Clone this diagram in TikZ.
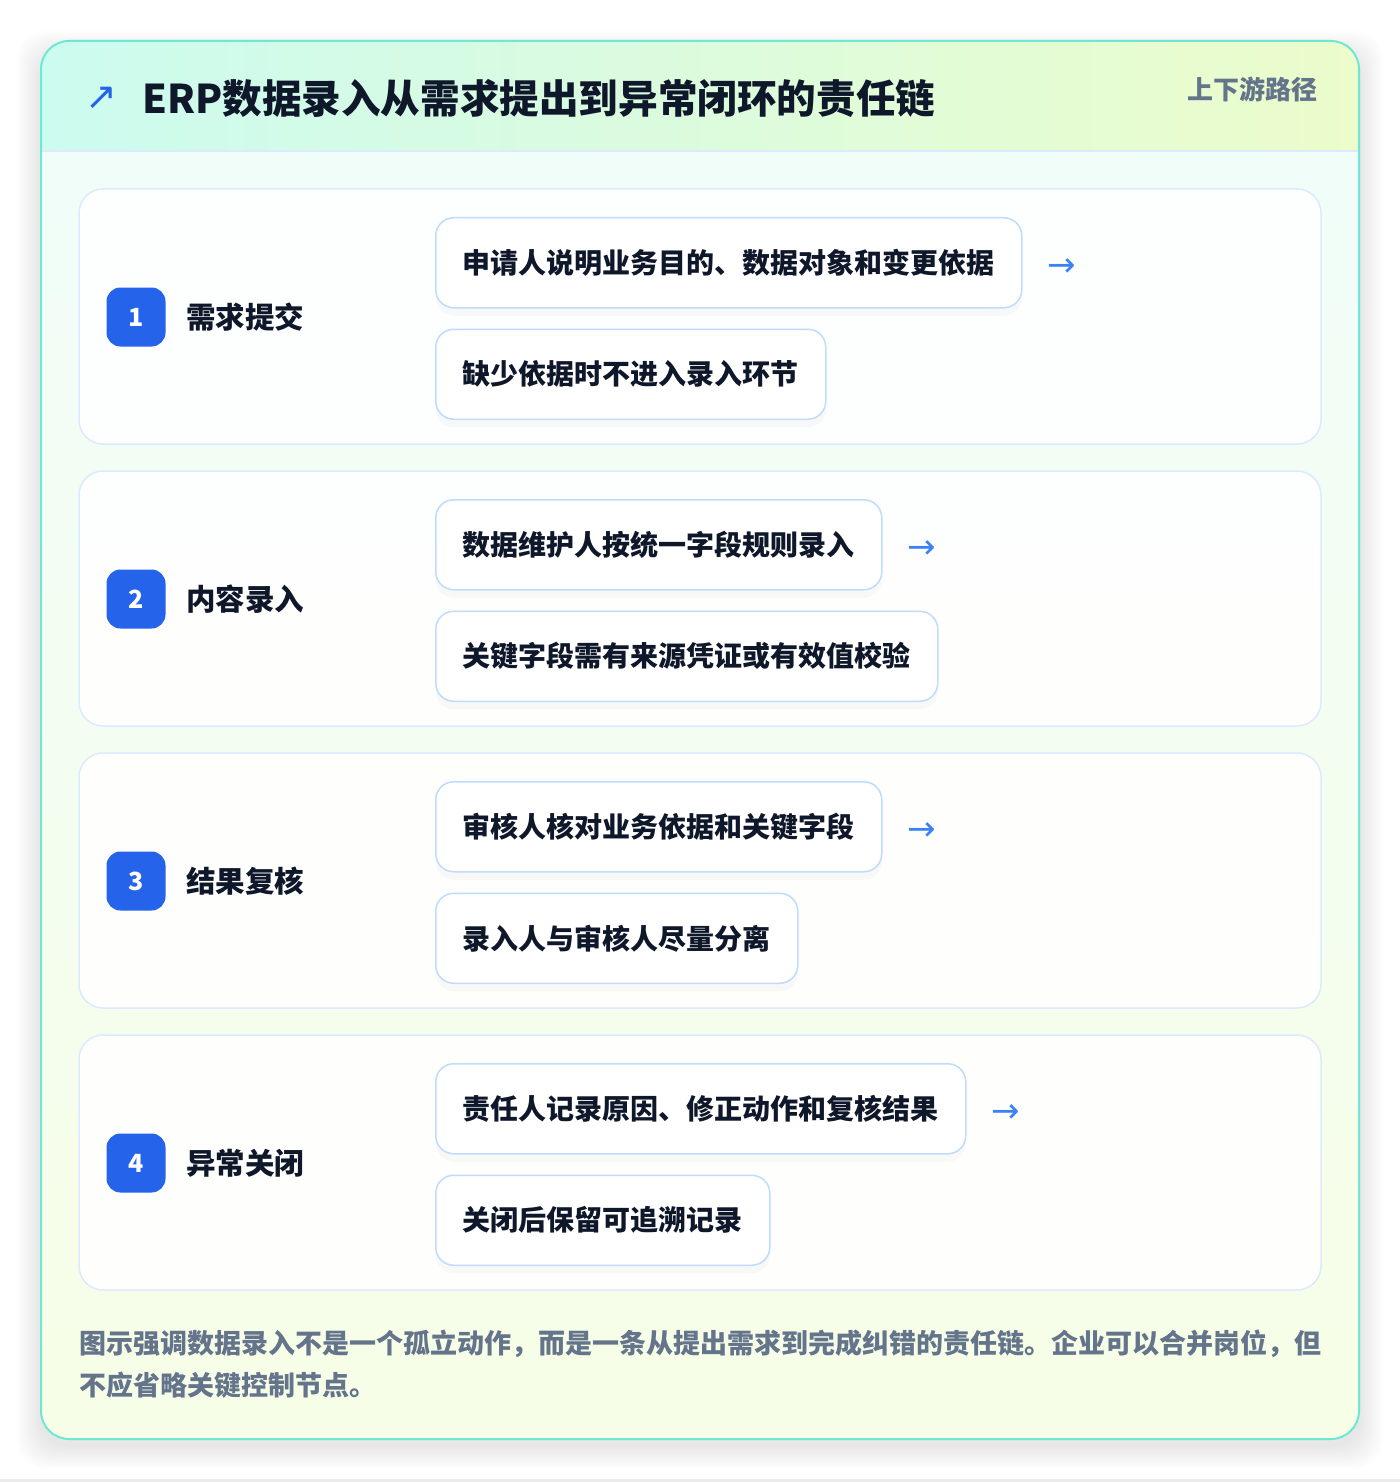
\documentclass[tikz,border=0pt]{standalone}
\usepackage{fontspec}
\setmainfont{Noto Sans CJK SC}
\newfontfamily\symfont{DejaVu Sans}
\usetikzlibrary{positioning,shadows}

\definecolor{ink}{HTML}{0F172A}
\definecolor{muted}{HTML}{64748B}
\definecolor{cardline}{HTML}{6EE7D4}
\definecolor{stepline}{HTML}{DBEAFE}
\definecolor{boxline}{HTML}{BFDBFE}
\definecolor{badgeblue}{HTML}{2563EB}
\definecolor{arrowblue}{HTML}{3B82F6}
\definecolor{headleft}{HTML}{CCFBEF}
\definecolor{headright}{HTML}{ECFCCB}
\definecolor{bodytop}{HTML}{F0FDFA}
\definecolor{bodybottom}{HTML}{F7FEE7}

\tikzset{
  stepcard/.style={draw=stepline, line width=0.75pt, fill=white, fill opacity=0.92, rounded corners=12pt},
  badge/.style={fill=badgeblue, rounded corners=7pt, minimum size=29.5pt, inner sep=0pt,
    text=white, font=\bfseries\fontsize{12.5}{12.5}\selectfont},
  steplabel/.style={inner sep=0pt, text=ink, font=\bfseries\fontsize{14.75}{15}\selectfont},
  itembox/.style={draw=boxline, line width=0.75pt, fill=white, rounded corners=9pt,
    minimum height=45pt, inner xsep=13.5pt, inner ysep=0pt, text=ink,
    font=\bfseries\fontsize{14}{14}\selectfont,
    drop shadow={shadow xshift=0pt, shadow yshift=-4pt, opacity=0.025, fill=black}},
  flowarrow/.style={inner sep=0pt, yshift=-2.5pt, text=arrowblue, font=\symfont\fontsize{17}{17}\selectfont},
}

\begin{document}
\begin{tikzpicture}[x=0.5pt, y=-0.5pt]
    \useasboundingbox (0,0) rectangle (1400,1482);
    \fill[white] (0,0) rectangle (1400,1482);
    \fill[black!8] (0,1479) rectangle (1400,1482);

    %outer shadow
    \foreach \s in {2,4,...,24}
        \fill[black, opacity=0.006, rounded corners=14pt] (41-\s,41-\s+14) rectangle (1359+\s,1439+\s+6);

    %card background and header
    \shade[top color=bodytop, bottom color=bodybottom, rounded corners=14pt] (41,41) rectangle (1359,1439);
    \begin{scope}
        \clip[rounded corners=14pt] (41,41) rectangle (1359,1439);
        \shade[left color=headleft, right color=headright] (41,41) rectangle (1359,151);
    \end{scope}
    \draw[stepline, line width=0.75pt] (41,151) -- (1359,151);
    \draw[cardline, line width=1pt, rounded corners=14pt] (41,41) rectangle (1359,1439);

    %title
    \node[inner sep=0pt, text=badgeblue, font=\symfont\fontsize{19}{19}\selectfont] (icon) at (101,98) {↗};
    \node[inner sep=0pt, anchor=west, text=ink, font=\bfseries\fontsize{19.8}{20}\selectfont] (title) at (142,98) {ERP数据录入从需求提出到异常闭环的责任链};
    \node[inner sep=0pt, anchor=east, text=muted, font=\bfseries\fontsize{13}{13}\selectfont] (tag) at (1318,89) {上下游路径};

    %steps
    \foreach \i/\head/\first/\second in {
        1/需求提交/申请人说明业务目的、数据对象和变更依据/缺少依据时不进入录入环节,
        2/内容录入/数据维护人按统一字段规则录入/关键字段需有来源凭证或有效值校验,
        3/结果复核/审核人核对业务依据和关键字段/录入人与审核人尽量分离,
        4/异常关闭/责任人记录原因、修正动作和复核结果/关闭后保留可追溯记录}
    {
        \pgfmathsetmacro\top{189+(\i-1)*282}
        \draw[stepcard] (79,\top) rectangle (1321,\top+255);
        \node[badge] (n\i) at (136,\top+128) {\i};
        \node[steplabel, right=10pt of n\i] (h\i) {\head};
        \node[itembox, anchor=north west] (b\i) at (435,\top+28) {\first};
        \node[itembox, below right=10pt and 0pt of b\i.south west] (c\i) {\second};
        \node[flowarrow, right=12.5pt of b\i] (arr\i) {→};
    }

    %note
    \node[inner sep=0pt, anchor=north west, align=left, text=muted,
        font=\bfseries\fontsize{13.5}{21}\selectfont] (note) at (79,1329)
        {图示强调数据录入不是一个孤立动作，而是一条从提出需求到完成纠错的责任链。企业可以合并岗位，但\\不应省略关键控制节点。};
\end{tikzpicture}
\end{document}
